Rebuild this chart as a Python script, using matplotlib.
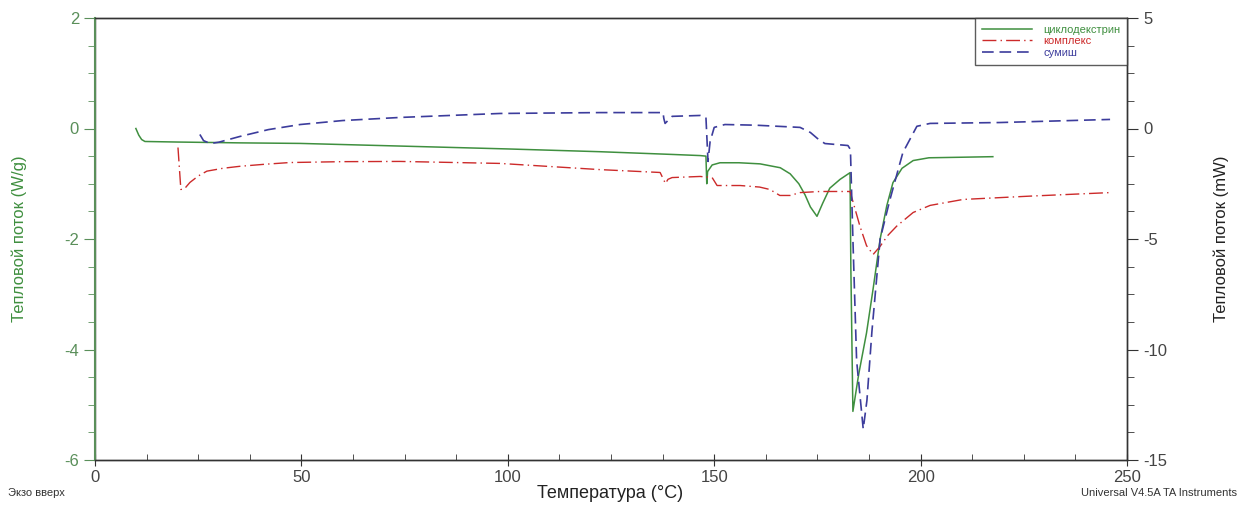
import numpy as np
import matplotlib.pyplot as plt
from matplotlib.ticker import MultipleLocator

plt.rcParams['font.family'] = ['Liberation Sans', 'DejaVu Sans']
plt.rcParams['axes.unicode_minus'] = False

# циклодекстрин, left axis (W/g)
t_green = [9.9, 10.6, 11.3, 12.1, 20, 35, 49.7, 75, 100, 122.3, 140, 146.6, 148.0,
           148.2, 148.4, 149.5, 151.4, 156, 161.1, 166.0, 168.4, 170.5, 172.0, 173.3,
           174.9, 176.3, 178.0, 180.5, 182.9, 183.1, 183.6, 185.0, 186.9, 188.5,
           190.2, 191.8, 193.3, 195.5, 198.2, 202, 210, 217.5]
v_green = [0.0, -0.12, -0.2, -0.235, -0.245, -0.26, -0.27, -0.32, -0.37, -0.42, -0.47,
           -0.49, -0.5, -1.0, -0.78, -0.66, -0.62, -0.62, -0.64, -0.71, -0.82, -1.0,
           -1.2, -1.42, -1.59, -1.35, -1.08, -0.92, -0.8, -2.5, -5.12, -4.45, -3.7,
           -2.9, -2.0, -1.4, -0.98, -0.72, -0.58, -0.53, -0.52, -0.51]

# комплекс, right axis (mW)
t_red = [20.1, 20.8, 21.8, 23.0, 25.0, 27.1, 31, 35.1, 41, 47.2, 60, 73.9, 98.1,
         122.3, 136.9, 138.2, 138.8, 139.8, 146.6, 149.5, 150.7, 156.3, 161, 163.5,
         165.9, 168.4, 170.8, 175.6, 182.9, 183.6, 185.3, 186.9, 188.5, 190.2,
         192.0, 194.2, 198.2, 202.3, 210.3, 226.5, 245.9]
v_red = [-0.86, -2.76, -2.7, -2.44, -2.15, -1.93, -1.8, -1.71, -1.62, -1.54, -1.5,
         -1.49, -1.58, -1.86, -1.99, -2.49, -2.3, -2.22, -2.17, -2.22, -2.58, -2.58,
         -2.65, -2.76, -3.03, -3.03, -2.9, -2.85, -2.85, -3.3, -4.42, -5.3, -5.7,
         -5.33, -4.85, -4.42, -3.8, -3.48, -3.21, -3.06, -2.9]

# сумиш, right axis (mW)
t_blue = [25.4, 26.3, 27.9, 30, 35.1, 42, 49.7, 60, 73.9, 98.1, 122.3, 137.6, 137.8,
          138.1, 139.8, 146.6, 148.0, 148.5, 149.0, 150.0, 152.6, 160, 170.8, 173.3,
          175.0, 176.8, 182.4, 183.0, 183.6, 184.5, 186.1, 187.0, 188.2, 190.2,
          192.6, 195.7, 199.1, 202.3, 219.2, 245.9]
v_blue = [-0.27, -0.55, -0.68, -0.62, -0.36, -0.05, 0.18, 0.36, 0.5, 0.68, 0.72, 0.72,
          0.45, 0.23, 0.55, 0.59, 0.5, -1.49, -0.6, 0.05, 0.18, 0.15, 0.05, -0.18,
          -0.45, -0.68, -0.77, -0.95, -5.0, -10.5, -13.6, -12.3, -9.2, -5.0, -3.2,
          -1.09, 0.1, 0.23, 0.27, 0.41]

fig = plt.figure(figsize=(12.41, 5.05), dpi=100)
ax = fig.add_axes([95 / 1241, 1 - 460 / 505, (1127 - 95) / 1241, (460 - 18) / 505])
ax2 = ax.twinx()

green = '#3f8f3f'
red = '#cc2a2a'
blue = '#3c3c9c'
axgreen = '#5a8f5a'

l1, = ax.plot(t_green, v_green, color=green, lw=1.1, label='циклодекстрин')
l2, = ax2.plot(t_red, v_red, color=red, lw=1.0, ls=(0, (10, 3, 1, 3)), label='комплекс')
l3, = ax2.plot(t_blue, v_blue, color=blue, lw=1.2, ls=(0, (7, 3.5)), label='сумиш')

ax.set_xlim(0, 250)
ax.set_ylim(-6, 2)
ax2.set_ylim(-15, 5)
ax.xaxis.set_major_locator(MultipleLocator(50))
ax.xaxis.set_minor_locator(MultipleLocator(12.5))
ax.yaxis.set_major_locator(MultipleLocator(2))
ax.yaxis.set_minor_locator(MultipleLocator(0.5))
ax2.yaxis.set_major_locator(MultipleLocator(5))
ax2.yaxis.set_minor_locator(MultipleLocator(1.25))

ax.tick_params(axis='x', which='major', direction='inout', length=8, labelsize=12,
               labelcolor='#444444', color='#333333')
ax.tick_params(axis='x', which='minor', direction='in', length=4, color='#333333')
ax.tick_params(axis='y', which='both', direction='out', color=axgreen, labelcolor=axgreen,
               labelsize=12)
ax.tick_params(axis='y', which='major', length=8)
ax.tick_params(axis='y', which='minor', length=5)
ax2.tick_params(axis='y', which='both', direction='out', color='#333333',
                labelcolor='#444444', labelsize=12)
ax2.tick_params(axis='y', which='major', length=8)
ax2.tick_params(axis='y', which='minor', length=5)

for a in (ax, ax2):
    for s in a.spines.values():
        s.set_color('#333333')
        s.set_linewidth(1.0)
ax2.spines['left'].set_color(axgreen)
ax2.spines['left'].set_linewidth(1.5)

ax.set_ylabel('Тепловой поток (W/g)', color=green, fontsize=12)
ax.yaxis.set_label_coords(-0.066, 0.5)
ax2.set_ylabel('Тепловой поток (mW)', color='#222222', fontsize=12)
ax2.yaxis.set_label_coords(1.084, 0.5)

fig.text(610 / 1241, 1 - 494 / 505, 'Температура (°C)', ha='center', va='center',
         fontsize=13, color='#222222')
fig.text(8 / 1241, 1 - 493 / 505, 'Экзо вверх', ha='left', va='center', fontsize=8,
         color='#333333')
fig.text(1237 / 1241, 1 - 493 / 505, 'Universal V4.5A TA Instruments', ha='right',
         va='center', fontsize=8, color='#333333')

leg = ax2.legend(handles=[l1, l2, l3], loc='upper right', bbox_to_anchor=(1.0, 1.0),
                 fontsize=8, frameon=True, fancybox=False, borderaxespad=0,
                 handlelength=4.5, labelspacing=0.15, borderpad=0.6, handletextpad=1.0)
leg.get_frame().set_edgecolor('#333333')
leg.get_frame().set_linewidth(1.0)
for txt, c in zip(leg.get_texts(), [green, red, blue]):
    txt.set_color(c)

fig.savefig('out.png', dpi=100)
